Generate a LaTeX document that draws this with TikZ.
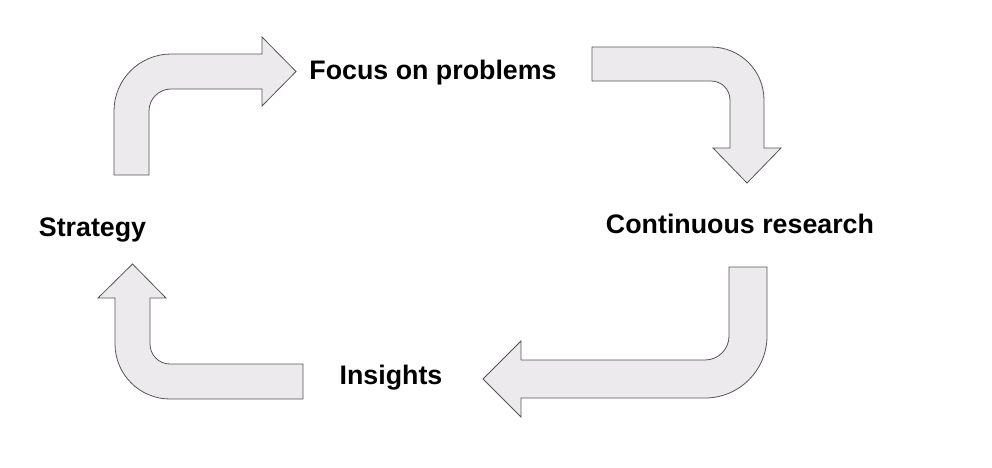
\documentclass[tikz,border=0pt]{standalone}
\usepackage{fontspec}
\setmainfont{Liberation Sans}
\usepackage{xcolor}
\usepackage{tikz}
\usetikzlibrary{positioning}

\definecolor{arrowfill}{RGB}{237,234,238}
\definecolor{arrowline}{RGB}{85,85,85}

\begin{document}
\begin{tikzpicture}[
        x=1pt, y=-1pt,
        bentarrow/.style={draw=arrowline, fill=arrowfill, line width=0.8pt, line join=miter},
        label/.style={font=\fontsize{26.8}{30}\selectfont\bfseries, anchor=base, inner sep=0pt}
    ]
    
    % Canvas (fixes margins)
    \useasboundingbox (0,0) rectangle (992,467);
    
    % Stage labels
    \node[label] (focus) at (433,79) {Focus on problems};
    \node[label] (research) at (740,233) {Continuous research};
    \node[label] (insights) at (391,384) {Insights};
    \node[label] (strategy) at (92.5,236) {Strategy};
    
    % Strategy to Focus on problems - up, then right
    \draw[bentarrow] (114,175) -- (114,111) arc[start angle=180, end angle=90, radius=57pt]
        -- (262,54) -- (262,37) -- (296,71.5) -- (262,106) -- (262,89)
        -- (171,89) arc[start angle=90, end angle=180, radius=22pt] -- (149,175) -- cycle;
    
    % Focus on problems to Continuous research - right, then down
    \draw[bentarrow] (592,47) -- (711,47) arc[start angle=90, end angle=0, radius=53pt]
        -- (764,148) -- (781,148) -- (747,183) -- (713,148) -- (730,148)
        -- (730,100) arc[start angle=0, end angle=90, radius=19pt] -- (592,81) -- cycle;
    
    % Continuous research to Insights - down, then left
    \draw[bentarrow] (729,267) -- (767,267) -- (767,336) arc[start angle=0, end angle=-90, radius=62pt]
        -- (521,398) -- (521,417) -- (483,379) -- (521,341) -- (521,360)
        -- (705,360) arc[start angle=-90, end angle=0, radius=24pt] -- cycle;
    
    % Insights to Strategy - left, then up
    \draw[bentarrow] (303,364) -- (170,364) arc[start angle=-90, end angle=-180, radius=20pt]
        -- (150,298) -- (166,298) -- (132.5,264) -- (98,298) -- (115,298)
        -- (115,344) arc[start angle=180, end angle=270, radius=55pt] -- (303,399) -- cycle;
    
\end{tikzpicture}
\end{document}
